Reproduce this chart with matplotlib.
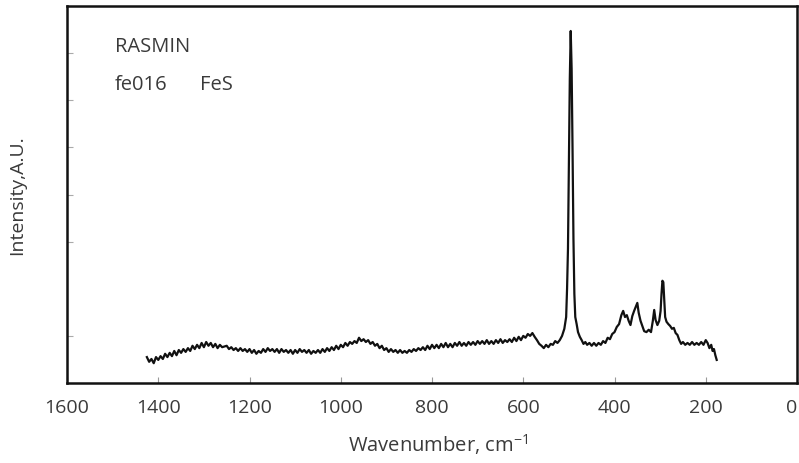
import numpy as np
import matplotlib
matplotlib.use('Agg')
from matplotlib import pyplot as plt

plt.rcParams['font.family'] = ['Open Sans', 'DejaVu Sans']
plt.rcParams['mathtext.default'] = 'regular'

# Raman spectrum of FeS (RASMIN fe016), intensity in arbitrary units
wavenumber = [
    1425, 1420, 1415, 1410, 1405, 1400, 1395, 1390, 1385, 1380, 1375, 1370,
    1365, 1360, 1355, 1350, 1345, 1340, 1335, 1330, 1325, 1320, 1315, 1310,
    1305, 1300, 1295, 1290, 1285, 1280, 1275, 1270, 1265, 1260, 1250, 1245,
    1240, 1235, 1230, 1225, 1220, 1215, 1210, 1205, 1200, 1195, 1190, 1185,
    1180, 1175, 1170, 1165, 1160, 1155, 1150, 1145, 1140, 1135, 1130, 1125,
    1120, 1115, 1110, 1105, 1100, 1095, 1090, 1085, 1080, 1075, 1070, 1065,
    1060, 1055, 1050, 1045, 1040, 1035, 1030, 1025, 1020, 1015, 1010, 1005,
    1000, 995, 990, 985, 980, 975, 970, 965, 960, 955, 950, 945,
    940, 935, 930, 925, 920, 915, 910, 905, 900, 895, 890, 885,
    880, 875, 870, 865, 860, 855, 850, 845, 840, 835, 830, 825,
    820, 815, 810, 805, 800, 795, 790, 785, 780, 775, 770, 765,
    760, 755, 750, 745, 740, 735, 730, 725, 720, 715, 710, 705,
    700, 695, 690, 685, 680, 675, 670, 665, 660, 655, 650, 645,
    640, 635, 630, 625, 620, 615, 610, 605, 600, 595, 590, 585,
    580, 575, 570, 565, 560, 555, 550, 545, 540, 535, 530, 525,
    520, 515, 510, 506, 504, 502, 500, 498, 496, 494, 492, 490,
    488, 486, 483, 480, 476, 472, 468, 464, 460, 455, 450, 445,
    440, 435, 430, 425, 420, 415, 410, 405, 400, 395, 390, 385,
    381, 377, 373, 369, 365, 361, 357, 353, 350, 347, 343, 339,
    335, 330, 325, 320, 316, 313, 310, 306, 302, 299, 297, 295,
    293, 291, 289, 286, 282, 278, 274, 270, 266, 262, 258, 254,
    250, 245, 240, 235, 230, 225, 220, 215, 210, 205, 200, 196,
    192, 188, 185, 182, 179, 176,
]
intensity = [
    0.55, 0.45, 0.51, 0.42, 0.55, 0.49, 0.57, 0.51, 0.62, 0.55, 0.64, 0.57,
    0.68, 0.59, 0.70, 0.64, 0.72, 0.66, 0.74, 0.68, 0.79, 0.72, 0.81, 0.74,
    0.85, 0.76, 0.87, 0.79, 0.85, 0.76, 0.83, 0.74, 0.81, 0.76, 0.79, 0.72,
    0.76, 0.70, 0.74, 0.68, 0.74, 0.68, 0.72, 0.66, 0.72, 0.64, 0.70, 0.62,
    0.68, 0.64, 0.72, 0.66, 0.74, 0.68, 0.72, 0.66, 0.72, 0.64, 0.72, 0.66,
    0.70, 0.64, 0.70, 0.62, 0.70, 0.64, 0.72, 0.66, 0.70, 0.64, 0.70, 0.62,
    0.68, 0.64, 0.70, 0.64, 0.72, 0.66, 0.74, 0.68, 0.76, 0.70, 0.79, 0.72,
    0.81, 0.76, 0.85, 0.79, 0.87, 0.83, 0.89, 0.85, 0.96, 0.89, 0.93, 0.87,
    0.91, 0.83, 0.87, 0.79, 0.83, 0.74, 0.79, 0.70, 0.74, 0.66, 0.72, 0.66,
    0.70, 0.64, 0.70, 0.64, 0.68, 0.64, 0.70, 0.66, 0.72, 0.68, 0.74, 0.70,
    0.76, 0.70, 0.79, 0.72, 0.81, 0.74, 0.81, 0.74, 0.83, 0.76, 0.85, 0.76,
    0.83, 0.76, 0.85, 0.79, 0.87, 0.79, 0.85, 0.79, 0.87, 0.81, 0.87, 0.81,
    0.89, 0.83, 0.89, 0.83, 0.91, 0.83, 0.89, 0.83, 0.91, 0.85, 0.93, 0.85,
    0.91, 0.87, 0.93, 0.87, 0.96, 0.89, 0.98, 0.91, 1.00, 0.96, 1.04, 1.00,
    1.06, 0.98, 0.91, 0.83, 0.79, 0.74, 0.81, 0.76, 0.83, 0.81, 0.89, 0.85,
    0.91, 1.00, 1.15, 1.40, 2.00, 2.85, 4.76, 6.45, 7.47, 6.67, 4.97, 3.06,
    1.89, 1.40, 1.25, 1.08, 0.98, 0.91, 0.83, 0.87, 0.81, 0.85, 0.79, 0.85,
    0.79, 0.85, 0.81, 0.89, 0.85, 0.96, 0.93, 1.04, 1.08, 1.19, 1.25, 1.44,
    1.53, 1.40, 1.44, 1.32, 1.23, 1.42, 1.53, 1.63, 1.70, 1.49, 1.32, 1.21,
    1.10, 1.08, 1.13, 1.08, 1.32, 1.55, 1.34, 1.23, 1.32, 1.53, 1.89, 2.17,
    2.14, 1.78, 1.40, 1.30, 1.25, 1.21, 1.15, 1.17, 1.06, 1.02, 0.91, 0.83,
    0.87, 0.81, 0.85, 0.81, 0.87, 0.81, 0.85, 0.81, 0.87, 0.81, 0.91, 0.85,
    0.74, 0.81, 0.68, 0.72, 0.59, 0.49,
]

x_ticks = [1600, 1400, 1200, 1000, 800, 600, 400, 200, 0]
y_ticks = [1, 3, 4, 5, 6, 7]

text_color = '#3a3a3a'

fig = plt.figure(figsize=(7.99, 4.64), dpi=100)
ax = fig.add_axes([0.0839, 0.1724, 0.9136, 0.8125])

ax.plot(wavenumber, intensity, color='#111111', linewidth=1.6)

ax.set_xlim(1600, 0)
ax.set_ylim(0, 8)
ax.set_xticks(x_ticks)
ax.set_xticklabels([str(t) for t in x_ticks])
ax.set_yticks(y_ticks)
ax.set_yticklabels([])

ax.tick_params(axis='x', direction='in', length=4, width=0.8, color='#999999',
               labelsize=14, labelcolor=text_color, pad=10.5)
ax.tick_params(axis='y', direction='in', length=4, width=0.8, color='#aaaaaa')

# last label would fall off the right edge
ax.get_xticklabels()[-1].set_horizontalalignment('right')

for s in ax.spines.values():
    s.set_linewidth(1.8)
    s.set_color('#111111')

fig.text(0.548, 0.041, 'Wavenumber, cm$^{-1}$', fontsize=14.5,
         color=text_color, ha='center', va='center')
fig.text(0.021, 0.58, 'Intensity,A.U.', fontsize=14, color=text_color,
         rotation=90, ha='center', va='center')

ax.text(0.066, 0.881, 'RASMIN', transform=ax.transAxes, fontsize=14.5,
        color=text_color, va='baseline')
ax.text(0.066, 0.780, 'fe016', transform=ax.transAxes, fontsize=14.5,
        color=text_color, va='baseline')
ax.text(0.182, 0.780, 'FeS', transform=ax.transAxes, fontsize=14.5,
        color=text_color, va='baseline')

plt.savefig('out.png', dpi=100)
